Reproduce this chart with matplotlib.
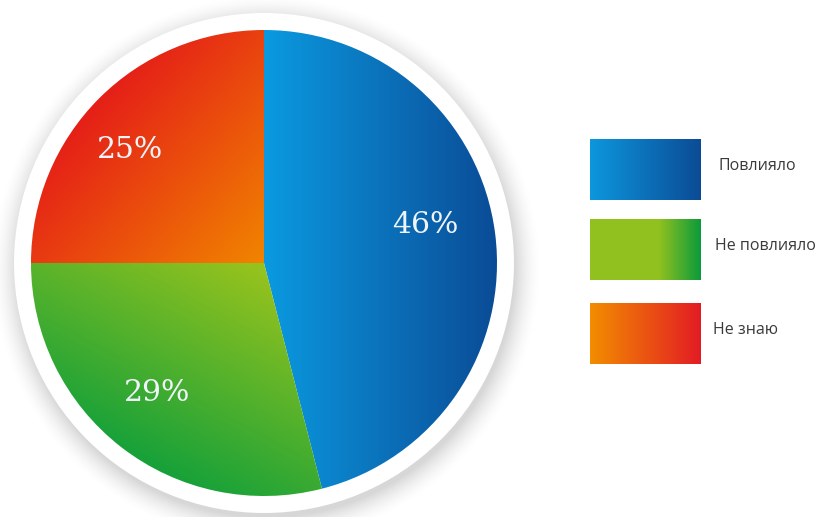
import numpy as np
import matplotlib.pyplot as plt
from matplotlib.colors import to_rgb
from matplotlib.patches import Circle, Rectangle

categories = ['Повлияло', 'Не повлияло', 'Не знаю']
values = [46, 29, 25]
pct_labels = ['46%', '29%', '25%']

W, H = 822, 517
fig = plt.figure(figsize=(W / 100, H / 100), dpi=100)
ax = fig.add_axes([0, 0, 1, 1])

cx, cy, R = 264, H - 263, 233
ring_r = 250

# grid for gradients (data coords, y up)
xs = np.arange(W) + 0.5
ys = np.arange(H) + 0.5
X, Y = np.meshgrid(xs, ys)


def gradient(c0, c1, p0, p1, gamma=1.0):
    p0 = np.array([p0[0], H - p0[1]], float)
    p1 = np.array([p1[0], H - p1[1]], float)
    d = p1 - p0
    t = ((X - p0[0]) * d[0] + (Y - p0[1]) * d[1]) / (d @ d)
    t = np.clip(t, 0, 1) ** gamma
    a, b = np.array(to_rgb(c0)), np.array(to_rgb(c1))
    return a + (b - a) * t[..., None]


# soft shadow
dist = np.hypot(X - (cx + 2), Y - (cy - 6))
sh = np.clip((ring_r + 26 - dist) / 28, 0, 1) ** 1.8 * 0.16
rgba = np.zeros((H, W, 4))
rgba[..., 3] = sh
ax.imshow(rgba, extent=(0, W, 0, H), origin='lower', zorder=0.1,
          interpolation='bilinear')
ax.add_patch(Circle((cx, cy), ring_r, facecolor='white', edgecolor='none',
                    lw=0, zorder=0.5))

wedges, _ = ax.pie(values, center=(cx, cy), radius=R, startangle=90,
                   counterclock=False, wedgeprops=dict(linewidth=0))

grads = [
    gradient('#0b9ae0', '#0a4b96', (264, 263), (497, 263)),
    gradient('#94c21e', '#0b9e3c', (250, 268), (135, 480)),
    gradient('#e30d1c', '#f18400', (60, 80), (262, 262)),
]
for w, g in zip(wedges, grads):
    w.set_facecolor('none')
    im = ax.imshow(g, extent=(0, W, 0, H), origin='lower', zorder=2,
                   interpolation='bilinear')
    im.set_clip_path(w)

label_pos = [(425, 225), (157, 393), (130, 150)]
for (lx, ly), t in zip(label_pos, pct_labels):
    ax.text(lx, H - ly, t, color='#eef4fa', fontsize=21.5, family='DejaVu Serif',
            ha='center', va='center', zorder=3)

# legend
leg_colors = [('#0d97dd', '#0b4b95'), ('#92c11f', '#0b9a3b'), ('#f28d00', '#e31c24')]
leg_stops = [0.0, 0.62, 0.0]
box_tops = [139, 219, 303]
box_x0, box_x1, box_h = 590, 701, 61
text_x = [718, 715, 713]
for (c0, c1), st, top, tx, cat in zip(leg_colors, leg_stops, box_tops, text_x, categories):
    y0 = H - top - box_h
    rect = Rectangle((box_x0, y0), box_x1 - box_x0, box_h, facecolor='none', lw=0)
    ax.add_patch(rect)
    x0s = box_x0 + st * (box_x1 - box_x0)
    g = gradient(c0, c1, (x0s, 0), (box_x1, 0))
    im = ax.imshow(g, extent=(0, W, 0, H), origin='lower', zorder=2)
    im.set_clip_path(rect)
    ax.text(tx, y0 + box_h / 2 + 4, cat, fontsize=11.5, family='Open Sans',
            color='#3a3a3a', ha='left', va='center', zorder=3)

ax.set_xlim(0, W)
ax.set_ylim(0, H)
ax.set_aspect('equal')
ax.axis('off')
fig.savefig('out.png', dpi=100)
